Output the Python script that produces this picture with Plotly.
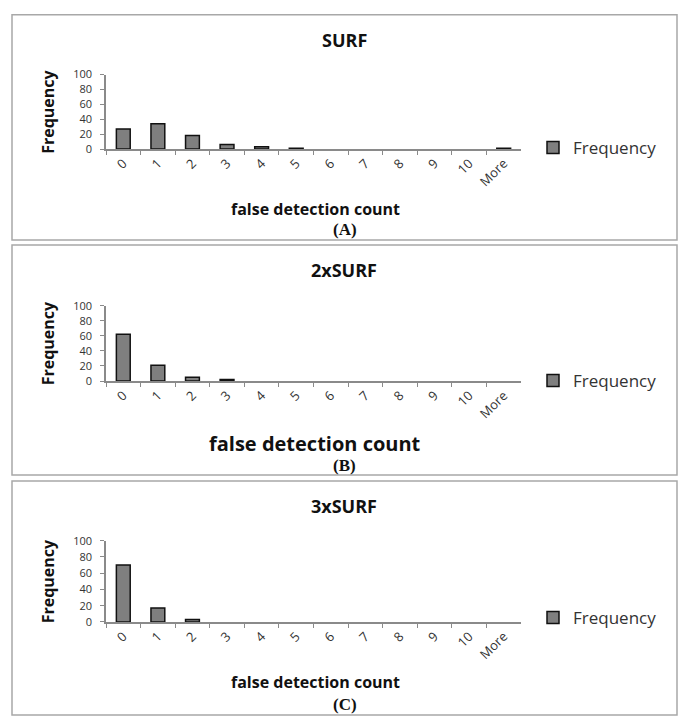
import plotly.graph_objects as go

W, H = 687, 720

categories = ["0", "1", "2", "3", "4", "5", "6", "7", "8", "9", "10", "More"]
surf_freq = [27, 34, 18, 6, 3, 1, 0, 0, 0, 0, 0, 1]
surf2_freq = [62, 21, 5, 2, 0, 0, 0, 0, 0, 0, 0, 0]
surf3_freq = [70, 17, 3, 0, 0, 0, 0, 0, 0, 0, 0, 0]
panel_titles = ["SURF", "2xSURF", "3xSURF"]
panel_tags = ["(A)", "(B)", "(C)"]
x_title = "false detection count"
y_title = "Frequency"
y_ticks = [0, 20, 40, 60, 80, 100]

series = [surf_freq, surf2_freq, surf3_freq]

def px(x):
    return x / W

def py(y):
    return 1 - y / H

# layout geometry in pixels (positions only)
panels = [
    dict(box=(12, 7, 677, 237), y0=144, y100=68, title_y=33, xt_y=205, xt_size=16, tag_y=226, leg_y=143),
    dict(box=(12, 242, 677, 477), y0=381, y100=304, title_y=268, xt_y=445, xt_size=20, tag_y=467, leg_y=381),
    dict(box=(12, 483, 677, 722), y0=627, y100=544, title_y=509, xt_y=688, xt_size=16, tag_y=711, leg_y=623),
]
plot_x0, plot_x1 = 106, 521

fig = go.Figure()
annotations = []
shapes = []
axis_col = "#8a8a8a"
text_col = "#333333"
font_fam = "Open Sans"

for i, (vals, p) in enumerate(zip(series, panels)):
    n = "" if i == 0 else str(i + 1)
    leg = "legend" if i == 0 else f"legend{i + 1}"
    fig.add_trace(go.Bar(
        x=categories, y=vals, name="Frequency",
        xaxis="x" + n, yaxis="y" + n, legend=leg,
        width=0.4,
        marker=dict(color="#7f7f7f",
                    line=dict(color="#111111", width=[1.5 if v > 0 else 0 for v in vals])),
        showlegend=True,
    ))
    fig.update_layout(**{
        "xaxis" + n: dict(
            domain=[px(plot_x0), px(plot_x1)], anchor="y" + n,
            type="category", categoryorder="array", categoryarray=categories,
            showline=True, linecolor=axis_col, linewidth=1.5,
            ticks="outside", tickson="boundaries", ticklen=4, tickcolor=axis_col,
            tickangle=-45, showgrid=False, zeroline=False,
            tickfont=dict(family=font_fam, size=13, color=text_col),
        ),
        "yaxis" + n: dict(
            domain=[py(p["y0"]), py(p["y100"])], anchor="x" + n,
            range=[0, 100], tickvals=y_ticks,
            showline=True, linecolor=axis_col, linewidth=1.5,
            ticks="outside", ticklen=4, tickcolor=axis_col,
            showgrid=False, zeroline=False, ticklabelstandoff=6,
            tickfont=dict(family=font_fam, size=11, color=text_col),
        ),
        leg: dict(
            x=px(533), y=py(p["leg_y"]), xanchor="left", yanchor="middle",
            bgcolor="rgba(0,0,0,0)",
            font=dict(family=font_fam, size=17, color=text_col),
        ),
    })
    x0, y0, x1, y1 = p["box"]
    shapes.append(dict(type="rect", xref="paper", yref="paper",
                       x0=px(x0), x1=px(x1), y0=py(y0), y1=py(y1),
                       line=dict(color="#a8a8a8", width=1.5)))
    annotations.append(dict(text="<b>" + panel_titles[i] + "</b>", xref="paper", yref="paper",
                            x=px(344), y=py(p["title_y"]), showarrow=False,
                            xanchor="center", yanchor="middle",
                            font=dict(family=font_fam, size=18, color="#111111")))
    annotations.append(dict(text="<b>" + y_title + "</b>", xref="paper", yref="paper",
                            x=px(48), y=py((p["y0"] + p["y100"]) / 2), showarrow=False,
                            textangle=-90, xanchor="center", yanchor="middle",
                            font=dict(family=font_fam, size=16, color="#111111")))
    annotations.append(dict(text="<b>" + x_title + "</b>", xref="paper", yref="paper",
                            x=px(315), y=py(p["xt_y"]), showarrow=False,
                            xanchor="center", yanchor="middle",
                            font=dict(family=font_fam, size=p["xt_size"], color="#111111")))
    annotations.append(dict(text="<b>" + panel_tags[i] + "</b>", xref="paper", yref="paper",
                            x=px(345), y=py(p["tag_y"]), showarrow=False,
                            xanchor="center", yanchor="middle",
                            font=dict(family="Liberation Serif", size=17, color="#111111")))

fig.update_layout(
    width=W, height=H, margin=dict(l=0, r=0, t=0, b=0),
    paper_bgcolor="white", plot_bgcolor="white",
    bargap=0.6, annotations=annotations, shapes=shapes,
)

fig.write_html("out.html")
